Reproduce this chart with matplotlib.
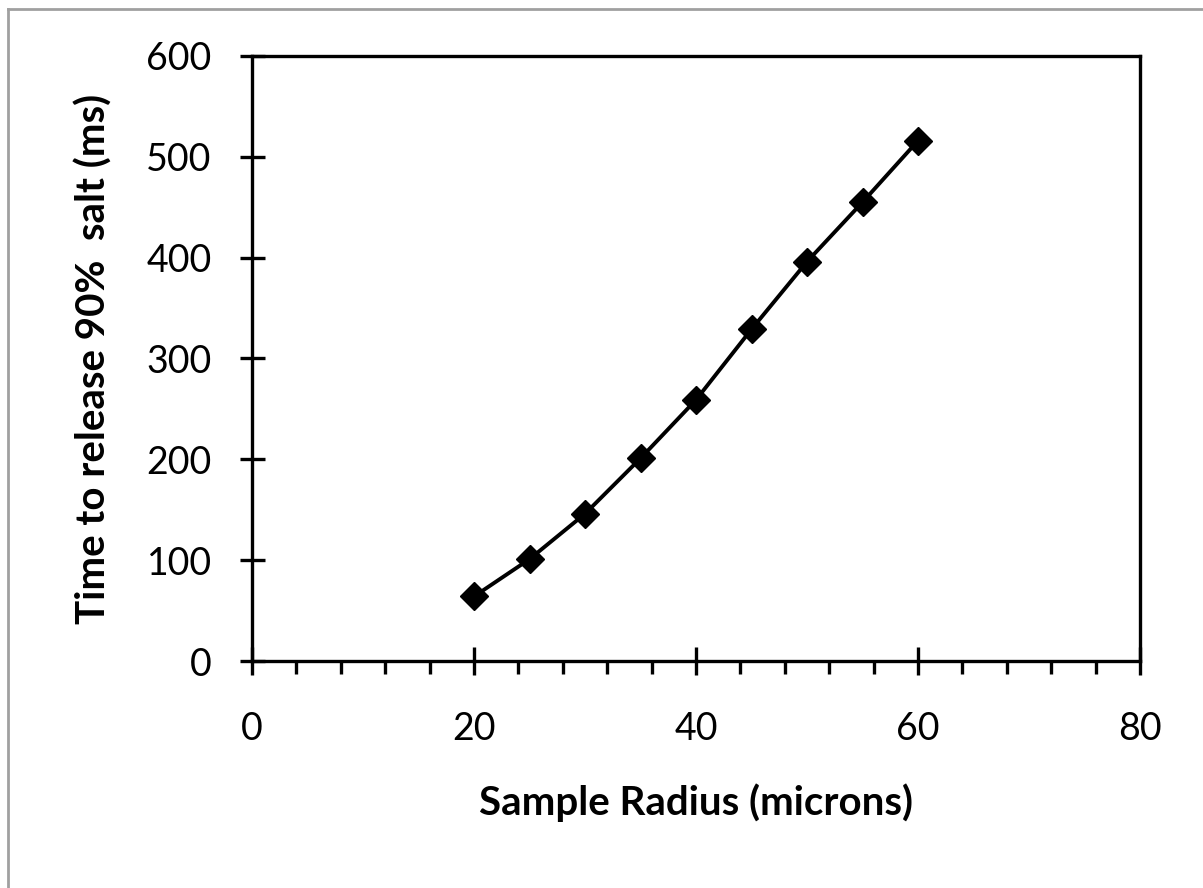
import matplotlib.pyplot as plt
from matplotlib.lines import Line2D
from matplotlib.ticker import MultipleLocator

radius = [20, 25, 30, 35, 40, 45, 50, 55, 60]
t90 = [64, 101, 146, 201, 259, 329, 396, 455, 516]

plt.rcParams['font.family'] = ['Lato', 'DejaVu Sans']

fig = plt.figure(figsize=(12.03, 8.88), dpi=100)
ax = fig.add_axes([252/1203, 1-661/888, (1140-252)/1203, (661-56)/888])

ax.plot(radius, t90, color='black', lw=2.8, marker='D', ms=14, mfc='black', mec='black')

ax.set_xlim(0, 80)
ax.set_ylim(0, 600)
ax.xaxis.set_major_locator(MultipleLocator(20))
ax.xaxis.set_minor_locator(MultipleLocator(4))
ax.yaxis.set_major_locator(MultipleLocator(100))

for s in ax.spines.values():
    s.set_linewidth(2.4)
ax.tick_params(axis='x', which='major', direction='inout', length=20, width=2.4, labelsize=27, pad=26)
ax.tick_params(axis='x', which='minor', direction='out', length=9, width=2.4)
ax.tick_params(axis='y', which='major', direction='inout', length=18, width=2.4, labelsize=27, pad=20)

ax.set_xlabel('Sample Radius (microns)', fontsize=29, fontweight='bold', labelpad=26)
ax.set_ylabel('Time to release 90%  salt (ms)', fontsize=29, fontweight='bold', labelpad=24)

# outer frame of the picture
fig.add_artist(Line2D([8/1203, 8/1203], [0, 1-9/888], transform=fig.transFigure, color='#a0a0a0', lw=2))
fig.add_artist(Line2D([8/1203, 1], [1-9/888, 1-9/888], transform=fig.transFigure, color='#a0a0a0', lw=2))

fig.savefig('out.png', dpi=100)
